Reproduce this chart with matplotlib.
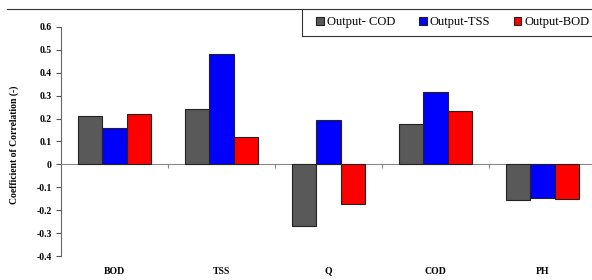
import numpy as np
import matplotlib
matplotlib.use("Agg")
import matplotlib.pyplot as plt
from matplotlib.lines import Line2D

# data
categories = ["BOD", "TSS", "Q", "COD", "PH"]
series_names = ["Output- COD", "Output-TSS", "Output-BOD"]
out_cod = [0.21, 0.24, -0.27, 0.175, -0.155]
out_tss = [0.16, 0.48, 0.195, 0.317, -0.145]
out_bod = [0.22, 0.12, -0.175, 0.234, -0.15]
y_ticks = [-0.4, -0.3, -0.2, -0.1, 0, 0.1, 0.2, 0.3, 0.4, 0.5, 0.6]

colors = ["#595959", "#0000ff", "#ff0000"]

plt.rcParams["font.family"] = ["Liberation Serif", "DejaVu Serif"]

W, H = 592, 280
fig = plt.figure(figsize=(W / 100, H / 100), dpi=100)
# axes in pixel coordinates: left 61, right 596, top 27, bottom 256
ax = fig.add_axes([61 / W, (H - 256) / H, (596 - 61) / W, (256 - 27) / H])

x = np.arange(len(categories))
bw = 0.225
for i, vals in enumerate([out_cod, out_tss, out_bod]):
    ax.bar(x + (i - 1) * bw, vals, width=bw, color=colors[i],
           edgecolor="#222222", linewidth=0.8, label=series_names[i], zorder=3)

ax.set_xlim(-0.5, len(categories) - 0.5)
ax.set_ylim(-0.4, 0.6)
ax.set_yticks(y_ticks)
ax.set_yticklabels([f"{v:g}" for v in y_ticks], fontsize=7, fontweight="bold")

for s in ["top", "right"]:
    ax.spines[s].set_visible(False)
ax.spines["left"].set_color("#666666")
ax.spines["bottom"].set_position(("data", 0))
ax.spines["bottom"].set_color("#888888")
ax.tick_params(axis="y", colors="#555555", length=3.5, width=0.8, labelcolor="black", pad=3)
ax.tick_params(axis="x", colors="#888888", length=3, width=0.8, direction="out")
ax.set_xticks(x[:-1] + 0.5)
ax.set_xticklabels([])

for xi, name in zip(x, categories):
    ax.text(xi, -0.066, name, transform=ax.get_xaxis_transform(),
            ha="center", va="center", fontsize=7, fontweight="bold")

fig.text(14 / W, 1 - 145 / H, "Coefficient of Correlation (-)", rotation=90,
         ha="center", va="center", fontsize=6.9, fontweight="bold")

# top rule and legend box
fig.add_artist(Line2D([7 / W, 1], [1 - 9 / H, 1 - 9 / H], color="#333333", lw=0.8))
fig.add_artist(Line2D([302 / W, 302 / W], [1 - 9 / H, 1 - 36 / H], color="#333333", lw=0.8))
fig.add_artist(Line2D([302 / W, 1], [1 - 36 / H, 1 - 36 / H], color="#333333", lw=0.8))

leg = fig.legend(loc="center left", bbox_to_anchor=(310 / W, 1 - 22.5 / H), ncol=3,
                 frameon=False, fontsize=9, handlelength=0.6, handleheight=0.6,
                 handletextpad=0.25, columnspacing=1.9, borderpad=0)

fig.savefig("out.png", dpi=100)
